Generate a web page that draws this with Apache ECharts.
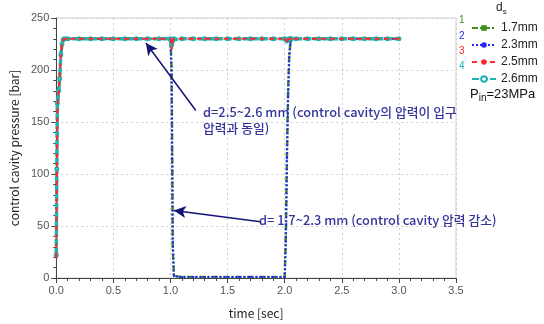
<!DOCTYPE html>
<html>
<head>
    <meta charset="utf-8">
    <title>control cavity pressure</title>
    <script src="https://cdn.jsdelivr.net/npm/echarts@6/dist/echarts.min.js"></script>
    <style>
        html, body { margin: 0; padding: 0; background: #fff; }
        #main { width: 544px; height: 324px; }
    </style>
</head>
<body>
<div id="main"></div>
<script type="text/javascript">
    // 시간 [sec]
    var time = [0, 0.005, 0.01, 0.02, 0.03, 0.04, 0.05, 0.06, 0.07,
        0.1, 0.2, 0.3, 0.4, 0.5, 0.6, 0.7, 0.8, 0.9,
        1.0, 1.005, 1.01, 1.015, 1.02, 1.03,
        1.1, 1.2, 1.3, 1.4, 1.5, 1.6, 1.7, 1.8, 1.9,
        2.0, 2.01, 2.02, 2.03, 2.04, 2.05, 2.06,
        2.1, 2.2, 2.3, 2.4, 2.5, 2.6, 2.7, 2.8, 2.9, 3.0];

    // control cavity pressure [bar]
    var p17 = [20, 100, 165, 175, 190, 212, 222, 228, 230,
        230, 230, 230, 230, 230, 230, 230, 230, 230,
        230, 229, 200, 120, 30, 2,
        1, 1, 1, 1, 1, 1, 1, 1, 1,
        1, 40, 120, 180, 215, 226, 230,
        230, 230, 230, 230, 230, 230, 230, 230, 230, 230];
    var p23 = [20, 98, 163, 176, 191, 213, 223, 228, 230,
        230, 230, 230, 230, 230, 230, 230, 230, 230,
        230, 229, 195, 115, 35, 2,
        1, 1, 1, 1, 1, 1, 1, 1, 1,
        1, 35, 115, 175, 212, 225, 230,
        230, 230, 230, 230, 230, 230, 230, 230, 230, 230];
    var p25 = [20, 98, 160, 178, 195, 214, 224, 229, 230,
        230, 230, 230, 230, 230, 230, 230, 230, 230,
        230, 226, 220, 224, 228, 230,
        230, 230, 230, 230, 230, 230, 230, 230, 230,
        230, 229, 228, 229, 230, 230, 230,
        230, 230, 230, 230, 230, 230, 230, 230, 230, 230];
    var p26 = [22, 105, 168, 180, 192, 215, 225, 229, 230,
        230, 230, 230, 230, 230, 230, 230, 230, 230,
        230, 228, 224, 227, 229, 230,
        230, 230, 230, 230, 230, 230, 230, 230, 230,
        230, 229, 228, 229, 230, 230, 230,
        230, 230, 230, 230, 230, 230, 230, 230, 230, 230];

    var names = ['1.7mm', '2.3mm', '2.5mm', '2.6mm'];
    var colors = ['#3f8f1f', '#2424ff', '#ff2a2a', '#1cb4b4'];

    function pairs(v) {
        var out = [];
        for (var i = 0; i < time.length; i++) {
            out.push([time[i], v[i]]);
        }
        return out;
    }

    var font = '"Noto Sans CJK KR", "Noto Sans", sans-serif';
    var tickFont = '"Liberation Sans", Arial, sans-serif';
    var myChart = echarts.init(document.getElementById('main'));

    var option = {
        animation: false,
        grid: {
            left: 55, right: 88, top: 18, bottom: 45,
            show: true, borderColor: '#d0d0d0', borderWidth: 1
        },
        xAxis: {
            type: 'value', min: 0, max: 3.5, interval: 0.5,
            name: 'time [sec]', nameLocation: 'middle', nameGap: 29,
            nameTextStyle: { color: '#222', fontSize: 12, fontFamily: font },
            axisLine: { lineStyle: { color: '#444' } },
            axisTick: { length: 5, lineStyle: { color: '#444' } },
            minorTick: { show: true, splitNumber: 5, length: 3, lineStyle: { color: '#444' } },
            axisLabel: { color: '#555', fontSize: 11, fontFamily: tickFont, margin: 7,
                formatter: function (v) { return v.toFixed(1); } },
            splitLine: { show: true, lineStyle: { color: '#cfcfcf', type: [2, 3] } }
        },
        yAxis: {
            type: 'value', min: 0, max: 250, interval: 50,
            name: 'control cavity pressure [bar]', nameLocation: 'middle', nameGap: 30,
            nameTextStyle: { color: '#222', fontSize: 12, fontFamily: font },
            axisLine: { show: true, lineStyle: { color: '#444' } },
            axisTick: { show: true, length: 5, lineStyle: { color: '#444' } },
            minorTick: { show: true, splitNumber: 5, length: 3, lineStyle: { color: '#444' } },
            axisLabel: { color: '#555', fontSize: 11, fontFamily: tickFont, margin: 7 },
            splitLine: { show: true, lineStyle: { color: '#cfcfcf', type: [2, 3] } }
        },
        legend: {
            orient: 'vertical', left: 466, top: 17, itemGap: 5,
            itemWidth: 24, itemHeight: 7,
            textStyle: { color: '#222', fontSize: 12, fontFamily: tickFont },
            data: names
        },
        graphic: [
            { type: 'text', left: 496, top: 2,
              style: { text: 'd{s|s}', font: '12px ' + tickFont, fill: '#222',
                  rich: { s: { fontSize: 8, padding: [7, 0, 0, 0] } } } },
            { type: 'text', left: 459, top: 15, style: { text: '1', font: '10px ' + tickFont, fill: colors[0] } },
            { type: 'text', left: 459, top: 31, style: { text: '2', font: '10px ' + tickFont, fill: colors[1] } },
            { type: 'text', left: 459, top: 46, style: { text: '3', font: '10px ' + tickFont, fill: colors[2] } },
            { type: 'text', left: 459, top: 61, style: { text: '4', font: '10px ' + tickFont, fill: colors[3] } },
            { type: 'text', left: 470, top: 88,
              style: { text: 'P{s|in}=23MPa', font: '13px ' + tickFont, fill: '#111',
                  rich: { s: { fontSize: 10, padding: [7, 0, 0, 0] } } } },
            { type: 'text', left: 203, top: 104,
              style: { text: 'd=2.5~2.6 mm (control cavity의 압력이 입구\n압력과 동일)',
                  font: '500 12.8px ' + font, fill: '#34349a', lineHeight: 16 } },
            { type: 'text', left: 259, top: 214,
              style: { text: 'd= 1.7~2.3 mm (control cavity 압력 감소)',
                  font: '500 12.8px ' + font, fill: '#34349a' } }
        ],
        series: [
            {
                name: names[0], type: 'line', data: pairs(p17), z: 2,
                color: colors[0], symbol: 'rect', symbolSize: 2,
                lineStyle: { width: 2.5, type: [6, 2, 2, 2] }
            },
            {
                name: names[1], type: 'line', data: pairs(p23), z: 3,
                color: colors[1], symbol: 'circle', symbolSize: 2,
                lineStyle: { width: 2, type: 'dotted' }
            },
            {
                name: names[2], type: 'line', data: pairs(p25), z: 5,
                color: colors[2], symbol: 'circle', symbolSize: 2,
                lineStyle: { width: 2, type: [5, 4] },
                markLine: {
                    silent: true, symbol: ['none', 'arrow'], symbolSize: [9, 12],
                    label: { show: false },
                    lineStyle: { color: '#141478', width: 1.5, type: 'solid' },
                    data: [
                        [{ coord: [1.222, 161] }, { coord: [0.785, 226] }],
                        [{ coord: [1.789, 54] }, { coord: [1.03, 65] }]
                    ]
                }
            },
            {
                name: names[3], type: 'line', data: pairs(p26), z: 4,
                color: colors[3], symbol: 'emptyCircle', symbolSize: 3,
                lineStyle: { width: 3.5, type: [7, 2] }
            }
        ]
    };
    myChart.setOption(option);
</script>
</body>
</html>
